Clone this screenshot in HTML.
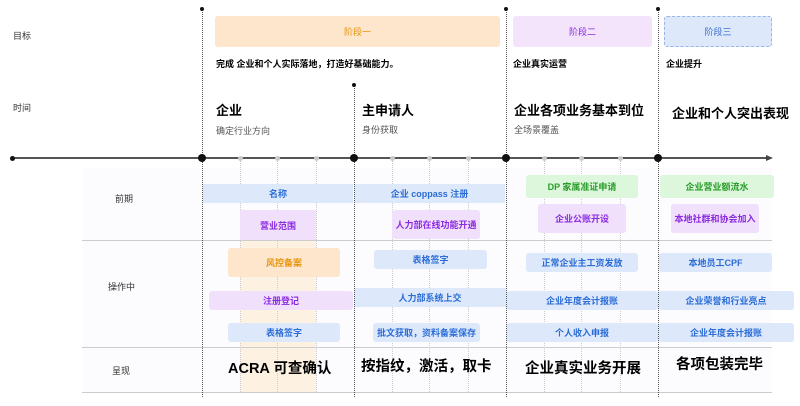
<!DOCTYPE html>
<html><head><meta charset="utf-8"><style>
*{margin:0;padding:0;box-sizing:border-box}
body{width:800px;height:406px;background:#fff;position:relative;overflow:hidden;font-family:"Liberation Sans","Noto Sans CJK SC",sans-serif}
.a{position:absolute}
.t{position:absolute;white-space:nowrap}
.b{position:absolute;display:flex;align-items:center;justify-content:center;font-size:9px;font-weight:bold;border-radius:3px;white-space:nowrap}
.bl{background:#dde9fb;color:#2b6cd6}
.pu{background:#f1e0fb;color:#8a2be2}
.gr{background:#dcf7dc;color:#2a9d2a}
.or{background:#fde6cc;color:#e8930a}
.vd{position:absolute;width:0;border-left:1px dotted #555}
.vf{position:absolute;width:0;border-left:1px dotted #ccc}
.dot{position:absolute;border-radius:50%;background:#111}
.sd{position:absolute;width:5px;height:5px;border-radius:50%;background:#ccc;top:156px}
.h{font-size:13px;font-weight:bold}
.p{font-size:14.5px;font-weight:bold}
</style></head><body>
<div class="a" style="left:82px;top:168px;width:690px;height:224px;background:#fcfbfd"></div>
<div class="a" style="left:240px;top:210px;width:76px;height:182px;background:#fdf1e2"></div>
<div class="a" style="left:82px;top:240px;width:690px;height:1px;background:#ccc"></div>
<div class="a" style="left:82px;top:347px;width:690px;height:1px;background:#ccc"></div>
<div class="a" style="left:82px;top:392px;width:690px;height:1px;background:#ccc"></div>

<div class="vf" style="left:240px;top:158px;height:234px"></div>
<div class="vf" style="left:277px;top:158px;height:234px"></div>
<div class="vf" style="left:316px;top:158px;height:234px"></div>
<div class="vf" style="left:392px;top:158px;height:234px"></div>
<div class="vf" style="left:429px;top:158px;height:234px"></div>
<div class="vf" style="left:468px;top:158px;height:234px"></div>
<div class="vf" style="left:544px;top:158px;height:234px"></div>
<div class="vf" style="left:581px;top:158px;height:234px"></div>
<div class="vf" style="left:620px;top:158px;height:234px"></div>

<div class="a" style="left:12px;top:157px;width:756px;height:1.5px;background:#555"></div>
<div class="a" style="left:766px;top:155px;width:0;height:0;border-left:7px solid #444;border-top:3px solid transparent;border-bottom:3px solid transparent"></div>
<div class="dot" style="left:10px;top:156px;width:5px;height:5px"></div>

<div class="t" style="left:13px;top:29px;font-size:9px;color:#333">目标</div>
<div class="t" style="left:13px;top:101px;font-size:9px;color:#333">时间</div>
<div class="t" style="left:115px;top:192px;font-size:9px;color:#333">前期</div>
<div class="t" style="left:108px;top:280px;font-size:9px;color:#333">操作中</div>
<div class="t" style="left:112px;top:364px;font-size:9px;color:#333">呈现</div>

<div class="b or" style="left:215px;top:16px;width:285px;height:31px;font-weight:normal">阶段一</div>
<div class="b pu" style="left:513px;top:16px;width:139px;height:31px;font-weight:normal;background:#f3e3fb">阶段二</div>
<div class="b bl" style="left:664px;top:16px;width:108px;height:31px;font-weight:normal;border:1px dashed #9bb6e6;color:#3b6fd0">阶段三</div>

<div class="t" style="left:216px;top:57px;font-size:9px;font-weight:bold">完成 企业和个人实际落地，打造好基础能力。</div>
<div class="t" style="left:513px;top:57px;font-size:9px;font-weight:bold">企业真实运营</div>
<div class="t" style="left:666px;top:57px;font-size:9px;font-weight:bold">企业提升</div>

<div class="t h" style="left:216px;top:100px">企业</div>
<div class="t" style="left:216px;top:124px;font-size:9px;color:#555">确定行业方向</div>
<div class="t h" style="left:362px;top:100px">主申请人</div>
<div class="t" style="left:362px;top:123px;font-size:9px;color:#555">身份获取</div>
<div class="t h" style="left:514px;top:100px">企业各项业务基本到位</div>
<div class="t" style="left:514px;top:123px;font-size:9px;color:#555">全场景覆盖</div>
<div class="t h" style="left:672px;top:103px">企业和个人突出表现</div>

<div class="b bl" style="left:203px;top:184px;width:150px;height:19px;border-radius:0">名称</div>
<div class="b bl" style="left:354px;top:184px;width:151px;height:19px;border-radius:0">企业 coppass 注册</div>
<div class="b gr" style="left:526px;top:175px;width:112px;height:23px">DP 家属准证申请</div>
<div class="b gr" style="left:660px;top:175px;width:114px;height:23px">企业营业额流水</div>
<div class="b pu" style="left:240px;top:210px;width:76px;height:30px;border-radius:0">营业范围</div>
<div class="b pu" style="left:392px;top:210px;width:88px;height:29px">人力部在线功能开通</div>
<div class="b pu" style="left:538px;top:204px;width:88px;height:29px">企业公账开设</div>
<div class="b pu" style="left:671px;top:204px;width:88px;height:29px">本地社群和协会加入</div>

<div class="b or" style="left:228px;top:248px;width:112px;height:29px">风控备案</div>
<div class="b bl" style="left:374px;top:250px;width:113px;height:19px">表格签字</div>
<div class="b bl" style="left:526px;top:253px;width:112px;height:19px">正常企业主工资发放</div>
<div class="b bl" style="left:659px;top:253px;width:113px;height:19px">本地员工CPF</div>

<div class="b pu" style="left:209px;top:291px;width:144px;height:19px">注册登记</div>
<div class="b bl" style="left:354px;top:288px;width:152px;height:19px;border-radius:0">人力部系统上交</div>
<div class="b bl" style="left:506px;top:291px;width:152px;height:19px">企业年度会计报账</div>
<div class="b bl" style="left:658px;top:291px;width:136px;height:19px">企业荣誉和行业亮点</div>

<div class="b bl" style="left:228px;top:323px;width:112px;height:19px">表格签字</div>
<div class="b bl" style="left:373px;top:323px;width:107px;height:19px">批文获取，资料备案保存</div>
<div class="b bl" style="left:506px;top:323px;width:152px;height:19px">个人收入申报</div>
<div class="b bl" style="left:658px;top:323px;width:136px;height:19px">企业年度会计报账</div>

<div class="t p" style="left:228px;top:357px">ACRA 可查确认</div>
<div class="t p" style="left:361px;top:355px">按指纹，激活，取卡</div>
<div class="t p" style="left:525px;top:357px">企业真实业务开展</div>
<div class="t p" style="left:676px;top:353px">各项包装完毕</div>

<div class="vd" style="left:202px;top:9px;height:388px"></div>
<div class="vd" style="left:354px;top:85px;height:312px"></div>
<div class="vd" style="left:506px;top:9px;height:388px"></div>
<div class="vd" style="left:658px;top:9px;height:388px"></div>
<div class="dot" style="left:200px;top:7px;width:4px;height:4px"></div>
<div class="dot" style="left:352px;top:83px;width:4px;height:4px"></div>
<div class="dot" style="left:504px;top:7px;width:4px;height:4px"></div>
<div class="dot" style="left:656px;top:7px;width:4px;height:4px"></div>
<div class="dot" style="left:198px;top:154px;width:8px;height:8px"></div>
<div class="dot" style="left:350px;top:154px;width:8px;height:8px"></div>
<div class="dot" style="left:502px;top:154px;width:8px;height:8px"></div>
<div class="dot" style="left:654px;top:154px;width:8px;height:8px"></div>
<div class="sd" style="left:238px"></div><div class="sd" style="left:275px"></div><div class="sd" style="left:314px"></div>
<div class="sd" style="left:390px"></div><div class="sd" style="left:427px"></div><div class="sd" style="left:466px"></div>
<div class="sd" style="left:542px"></div><div class="sd" style="left:579px"></div><div class="sd" style="left:618px"></div>
</body></html>
